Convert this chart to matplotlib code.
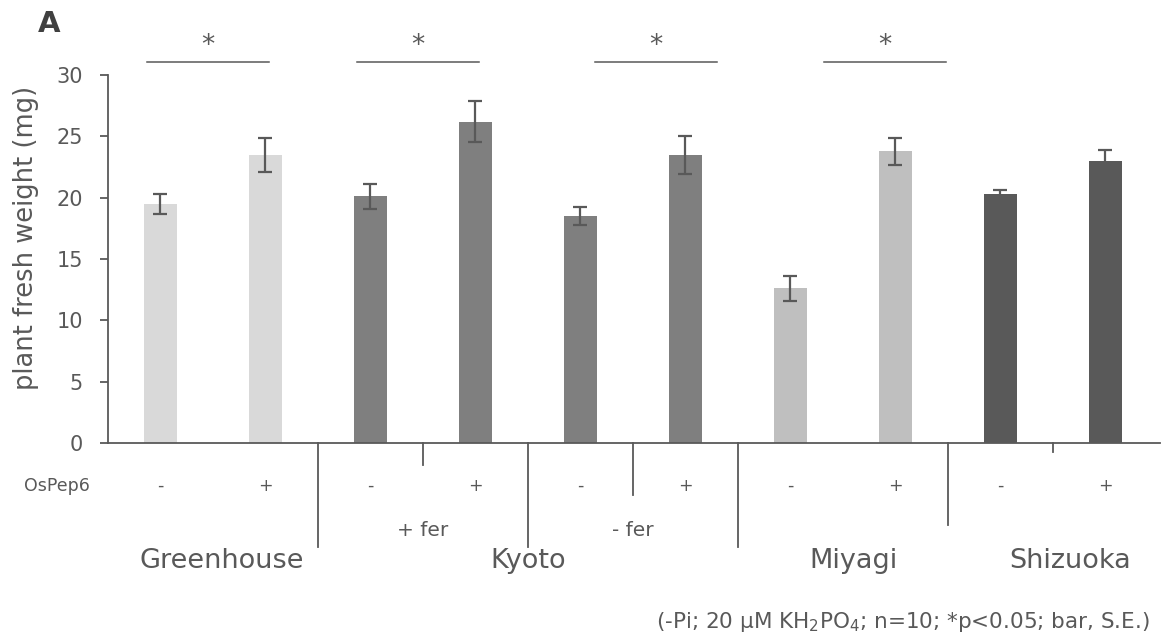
import matplotlib
matplotlib.use("Agg")
import matplotlib.pyplot as plt
import matplotlib.transforms as mtransforms
import numpy as np

# data
signs = ["-", "+"] * 5
values = [19.5, 23.5, 20.1, 26.2, 18.5, 23.5, 12.6, 23.8, 20.3, 23.0]
errors = [0.8, 1.4, 1.05, 1.7, 0.7, 1.55, 1.0, 1.1, 0.35, 0.9]
bar_colors = ["#d9d9d9"] * 2 + ["#7f7f7f"] * 4 + ["#bfbfbf"] * 2 + ["#595959"] * 2
sig_pairs = [0, 1, 2, 3]  # pairs with significant difference
sig_shift = [-0.05, -0.05, 0.22, 0.4]  # the marks sit a bit off-centre in the original
groups = ["Greenhouse", "Kyoto", "Miyagi", "Shizuoka"]
group_centers = [0.58, 3.5, 6.6, 8.66]
subgroups = ["+ fer", "- fer"]
subgroup_centers = [2.5, 4.5]
footnote = "(-Pi; 20 μM KH$_2$PO$_4$; n=10; *p<0.05; bar, S.E.)"

txt = "#595959"
plt.rcParams['font.family'] = ['DejaVu Sans']

W, H = 1163, 640
fig = plt.figure(figsize=(W / 100, H / 100), dpi=100)
ax = fig.add_axes([108 / W, 1 - 443 / H, (1160 - 108) / W, 368 / H])

def fy(py):
    return 1 - py / H

x = np.arange(len(values))
ax.bar(x, values, width=0.31, color=bar_colors, zorder=2)
ax.errorbar(x, values, yerr=errors, fmt="none", ecolor=txt, elinewidth=1.6,
            capsize=5, capthick=1.6, zorder=3)

ax.set_xlim(-0.5, 9.52)
ax.set_ylim(0, 30)
ax.set_yticks(np.arange(0, 31, 5))
ax.set_xticks([])
ax.tick_params(axis="y", colors=txt, labelsize=15, length=6, width=1.3, pad=12)
for s in ["top", "right"]:
    ax.spines[s].set_visible(False)
for s in ["left", "bottom"]:
    ax.spines[s].set_color(txt)
    ax.spines[s].set_linewidth(1.3)
fig.text(26 / W, fy(238), "plant fresh weight (mg)", rotation=90, ha="center",
         va="center", fontsize=18.5, color=txt)

# significance bars
for p, sh in zip(sig_pairs, sig_shift):
    mid = 2 * p + 0.5 + sh
    ax.plot([mid - 0.58, mid + 0.58], [31.05, 31.05], color=txt, lw=1.1, clip_on=False)
    ax.text(mid, 31.3, "*", ha="center", va="bottom", fontsize=19, color=txt)

# category axis below
tr = mtransforms.blended_transform_factory(ax.transData, fig.transFigure)

for xi, s in zip(x, signs):
    ax.text(xi, fy(486), s, transform=tr, ha="center", va="center", fontsize=12.5, color=txt)
fig.text(24 / W, fy(486), "OsPep6", ha="left", va="center", fontsize=12.5, color=txt)

seps = [(1.5, 547), (2.5, 465), (3.5, 547), (4.5, 495), (5.5, 547), (7.5, 525), (8.5, 452)]
for sx, yb in seps:
    ax.plot([sx, sx], [fy(443), fy(yb)], transform=tr, color=txt, lw=1.3, clip_on=False)

for c, name in zip(subgroup_centers, subgroups):
    ax.text(c, fy(530), name, transform=tr, ha="center", va="center", fontsize=14.5, color=txt)
for c, name in zip(group_centers, groups):
    ax.text(c, fy(561), name, transform=tr, ha="center", va="center", fontsize=19.5, color=txt)

fig.text(1150 / W, fy(622), footnote, ha="right", va="center", fontsize=15.5, color=txt)
fig.text(38 / W, fy(24), "A", ha="left", va="center", fontsize=21, fontweight="bold", color="#404040")

fig.savefig("out.png", dpi=100)
